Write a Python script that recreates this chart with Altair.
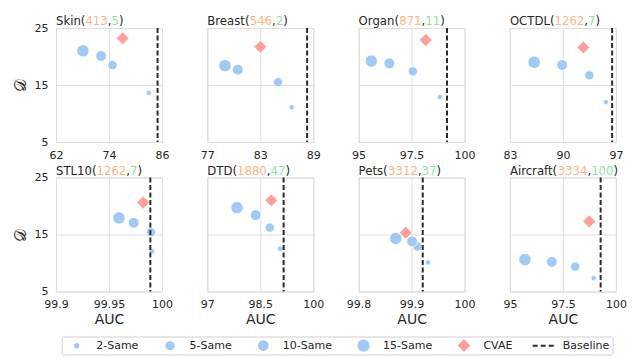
import altair as alt
import pandas as pd

# ---------------- data ----------------
DATASETS = ["Skin", "Breast", "Organ", "OCTDL", "STL10", "DTD", "Pets", "Aircraft"]
N_ORANGE = [413, 546, 871, 1262, 1262, 1880, 3312, 3334]
N_GREEN = [5, 2, 11, 7, 7, 47, 37, 100]
X_DOMAIN = [[62, 86], [77, 89], [95, 100], [83, 97],
            [99.9, 100], [97, 100], [99.8, 100], [95, 100]]
X_TICKS = [[62, 74, 86], [77, 83, 89], [95, 97.5, 100], [83, 90, 97],
           [99.9, 99.95, 100], [97, 98.5, 100], [99.8, 99.9, 100], [95, 97.5, 100]]
BASELINE = [85.0, 88.3, 99.17, 96.5, 99.989, 99.16, 99.921, 99.28]

SERIES = ["2-Same", "5-Same", "10-Same", "15-Same", "CVAE", "Baseline"]
AUC = {
    "2-Same":  [83.0, 86.56, 98.84, 95.7, 99.9906, 99.06, 99.931, 98.95],
    "5-Same":  [74.8, 85.0, 97.56, 93.5, 99.9897, 98.77, 99.911, 98.08],
    "10-Same": [72.2, 80.45, 96.45, 89.9, 99.9733, 98.37, 99.901, 96.98],
    "15-Same": [68.1, 79.0, 95.6, 86.2, 99.9594, 97.84, 99.870, 95.71],
    "CVAE":    [77.1, 83.0, 98.17, 92.7, 99.9822, 98.81, 99.889, 98.74],
}
DIV = {
    "2-Same":  [13.6, 11.1, 12.9, 12.0, 12.06, 12.5, 10.1, 7.35],
    "5-Same":  [18.5, 15.5, 17.4, 16.7, 15.4, 16.2, 12.9, 9.35],
    "10-Same": [20.1, 17.7, 18.8, 18.5, 17.06, 18.4, 13.8, 10.2],
    "15-Same": [21.0, 18.4, 19.2, 19.0, 17.9, 19.7, 14.3, 10.6],
    "CVAE":    [23.2, 21.7, 22.9, 21.6, 20.6, 21.0, 15.3, 17.3],
}
Y_TICKS = [5, 15, 25]

# ---------------- style ----------------
BLUE, RED, ORANGE, GREEN, DARK = "#a1c9f4", "#ff9f9b", "#ffb482", "#8de5a1", "#262626"
DASH_PATH = ("M-2.1,-0.2H-1.1V0.2H-2.1Z M-0.5,-0.2H0.5V0.2H-0.5Z "
             "M1.1,-0.2H2.1V0.2H1.1Z")
COLORS = [BLUE, BLUE, BLUE, BLUE, RED, "#2b2b2b"]
SHAPES = ["circle", "circle", "circle", "circle", "diamond", DASH_PATH]
SIZES = [28, 85, 115, 150, 165, 100]

PW, PH = 106, 114
TITLE_FS = 11.7
CHAR_W = {c: 1303 for c in "0123456789"}
CHAR_W.update({"(": 799, ")": 799, ",": 651, "S": 1300, "k": 1186, "i": 569,
               "n": 1298, "B": 1405, "r": 842, "e": 1260, "a": 1255, "s": 1067,
               "t": 803, "O": 1612, "g": 1300, "C": 1430, "T": 1251, "D": 1577,
               "L": 1141, "P": 1235, "A": 1401, "c": 1126, "f": 721})


def text_w(s, fs=TITLE_FS):
    return sum(CHAR_W.get(ch, 1250) for ch in s) / 2048 * fs


legend = alt.Legend(
    title=None, orient="none", legendX=5.7, legendY=308.5, direction="horizontal",
    columns=6, strokeColor="#cfcfcf", cornerRadius=2, padding=2.5,
    fillColor="white", labelFontSize=11, labelColor=DARK, labelFont="DejaVu Sans",
    symbolOffset=6, labelOffset=13, columnPadding=18.3, symbolStrokeWidth=0,
    symbolOpacity=1,
)


def panel(i):
    row, col = divmod(i, 4)
    recs = []
    for s in SERIES[:5]:
        recs.append({"series": s, "auc": AUC[s][i], "d": DIV[s][i]})
    df = pd.DataFrame(recs)

    xaxis = alt.Axis(values=X_TICKS[i], format=".6~g", title="AUC" if row == 1 else None,
                     grid=True, ticks=False, domain=False, labelPadding=7,
                     labelFlush=False, titleFontSize=14, titleFontWeight="normal",
                     titlePadding=3)
    yaxis = alt.Axis(values=Y_TICKS, grid=True, ticks=False, domain=False,
                     labels=(col == 0), labelPadding=8,
                     title="𝒟" if col == 0 else None, titleFontSize=16,
                     titleFontWeight="normal", titlePadding=6, titleFont="DejaVu Serif")
    x = alt.X("auc:Q", scale=alt.Scale(domain=X_DOMAIN[i], nice=False, zero=False), axis=xaxis)
    y = alt.Y("d:Q", scale=alt.Scale(domain=[5, 25], nice=False, zero=False), axis=yaxis)

    pts = alt.Chart(df).mark_point(filled=True, opacity=1, stroke="white",
                                   strokeWidth=0.7).encode(
        x=x, y=y,
        color=alt.Color("series:N", scale=alt.Scale(domain=SERIES, range=COLORS), legend=legend),
        shape=alt.Shape("series:N", scale=alt.Scale(domain=SERIES, range=SHAPES), legend=legend),
        size=alt.Size("series:N", scale=alt.Scale(type="ordinal", domain=SERIES, range=SIZES),
                      legend=legend),
        order=alt.Order("idx:Q"),
    ).transform_window(idx="row_number()")

    base = alt.Chart(pd.DataFrame({"auc": [BASELINE[i]]})).mark_rule(
        color="#2b2b2b", strokeWidth=2, strokeDash=[5, 2.5]).encode(x="auc:Q")

    layers = [pts, base]
    pieces = [(DATASETS[i] + "(", DARK), (str(N_ORANGE[i]), ORANGE), (",", DARK),
              (str(N_GREEN[i]), GREEN), (")", DARK)]
    off = 0.0
    for txt, colr in pieces:
        t = alt.Chart(pd.DataFrame({"t": [txt]})).mark_text(
            align="left", baseline="alphabetic", fontSize=TITLE_FS, color=colr,
            font="DejaVu Sans").encode(text="t:N", x=alt.value(off), y=alt.value(-3))
        layers.append(t)
        off += text_w(txt)

    return alt.layer(*layers).properties(width=PW, height=PH)


panels = [panel(i) for i in range(8)]

chart = alt.concat(*panels, columns=4, spacing={"row": 35.5, "column": 45.3},
                   bounds="flush").configure(
    font="DejaVu Sans",
    padding={"left": 3, "top": 7, "right": 2, "bottom": 1},
).configure_view(stroke="#d9d9d9", strokeWidth=1).configure_axis(
    gridColor="#dedede", gridWidth=1, labelFontSize=11, labelColor=DARK,
    titleColor=DARK, labelFont="DejaVu Sans", titleFont="DejaVu Sans",
)

chart.save("out.html", embed_options={"renderer": "svg", "actions": False})
